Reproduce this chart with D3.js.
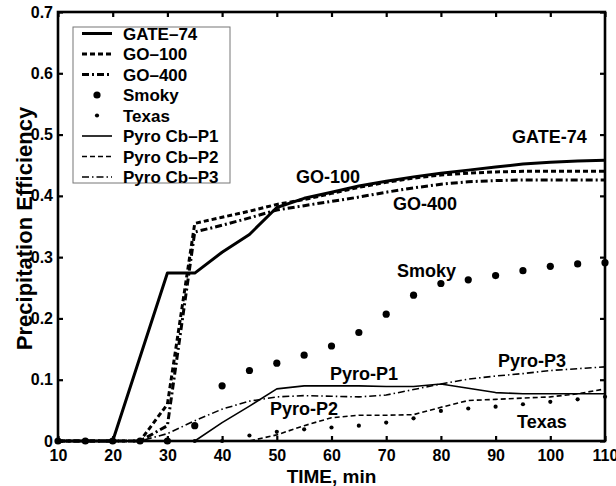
<!DOCTYPE html>
<html>
<head>
<meta charset="utf-8">
<script src="https://cdn.jsdelivr.net/npm/d3@7"></script>
<style>
  html, body { margin: 0; padding: 0; background: #fff; }
  svg { display: block; }
  text { font-family: "Liberation Sans", Arial, Helvetica, sans-serif; font-weight: bold; fill: #000; }
</style>
</head>
<body>
<svg id="chart" width="616" height="486"></svg>
<script>
// Time axis (minutes) shared by every series; null = no sample drawn there
const minutes = [10, 15, 20, 25, 30, 35, 40, 45, 50, 55, 60, 65, 70, 75, 80, 85, 90, 95, 100, 105, 110];

const gate74 = [0, 0, 0, null, 0.274, 0.274, 0.308, 0.337, 0.381, 0.396, 0.406, 0.416, 0.424, 0.431, 0.437, 0.442, 0.447, 0.452, 0.455, 0.457, 0.458];
const go100  = [0, 0, 0, 0, 0.060, 0.355, 0.365, 0.375, 0.386, 0.394, 0.404, 0.414, 0.422, 0.429, 0.434, 0.437, 0.439, 0.440, 0.440, 0.440, 0.440];
const go400  = [0, 0, 0, 0, 0.025, 0.341, 0.352, 0.364, 0.377, 0.384, 0.391, 0.398, 0.406, 0.413, 0.419, 0.423, 0.425, 0.426, 0.426, 0.426, 0.426];
const smoky  = [0, 0, 0, 0, 0, 0.025, 0.090, 0.115, 0.127, 0.140, 0.155, 0.177, 0.207, 0.238, 0.257, 0.263, 0.270, 0.278, 0.285, 0.289, 0.291];
const texas  = [0, 0, 0, 0, 0, 0, 0, 0.009, 0.015, 0.019, 0.022, 0.025, 0.030, 0.037, 0.049, 0.053, 0.056, 0.060, 0.064, 0.068, 0.072];
const pyroP1 = [0, 0, 0, 0, 0, 0, 0.030, 0.057, 0.085, 0.090, 0.090, 0.090, 0.089, 0.089, 0.093, 0.086, 0.079, 0.077, 0.077, 0.077, 0.077];
const pyroP2 = [0, 0, 0, 0, 0, 0, 0, 0, 0.010, 0.025, 0.038, 0.042, 0.042, 0.043, 0.055, 0.066, 0.068, 0.070, 0.072, 0.077, 0.085];
const pyroP3 = [0, 0, 0, 0, 0.012, 0.033, 0.052, 0.065, 0.072, 0.074, 0.073, 0.072, 0.075, 0.084, 0.093, 0.101, 0.106, 0.110, 0.115, 0.118, 0.121];

const xTicks = [10, 20, 30, 40, 50, 60, 70, 80, 90, 100, 110];
const yTicks = [0, 0.1, 0.2, 0.3, 0.4, 0.5, 0.6, 0.7];
const yTickLabels = ["0", "0.1", "0.2", "0.3", "0.4", "0.5", "0.6", "0.7"];

const legendNames = ["GATE\u201374", "GO\u2013100", "GO\u2013400", "Smoky", "Texas", "Pyro Cb\u2013P1", "Pyro Cb\u2013P2", "Pyro Cb\u2013P3"];
const curveLabels = ["GATE-74", "GO-100", "GO-400", "Smoky", "Pyro-P1", "Pyro-P2", "Pyro-P3", "Texas"];

// ---- drawing ----
const svg = d3.select("#chart");
const L = 58, R = 605, T = 12, B = 441;

const x = d3.scaleLinear().domain([10, 110]).range([L, R]);
const y = d3.scaleLinear().domain([0, 0.7]).range([B, T]);

// series styles
const series = [
  { name: legendNames[0], values: gate74, kind: "line", width: 3,   dash: null },
  { name: legendNames[1], values: go100,  kind: "line", width: 3,   dash: "5,3" },
  { name: legendNames[2], values: go400,  kind: "line", width: 3,   dash: "7,3,2,3" },
  { name: legendNames[3], values: smoky,  kind: "dot",  r: 3.6 },
  { name: legendNames[4], values: texas,  kind: "dot",  r: 2.1 },
  { name: legendNames[5], values: pyroP1, kind: "line", width: 1.6, dash: null },
  { name: legendNames[6], values: pyroP2, kind: "line", width: 1.6, dash: "5,3" },
  { name: legendNames[7], values: pyroP3, kind: "line", width: 1.6, dash: "7,3,1.5,3" }
];

function points(vals) {
  return minutes.map((t, i) => [t, vals[i]]).filter(d => d[1] !== null);
}

const line = d3.line().x(d => x(d[0])).y(d => y(d[1]));

// axes with inward ticks on all four sides
const axisG = svg.append("g");
axisG.append("g")
  .attr("transform", `translate(0,${B})`)
  .call(d3.axisBottom(x).tickValues(xTicks).tickSize(-5).tickPadding(9).tickFormat(d3.format("d")))
  .call(g => g.select(".domain").remove());
axisG.append("g")
  .attr("transform", `translate(0,${T})`)
  .call(d3.axisTop(x).tickValues(xTicks).tickSize(-5).tickFormat(""))
  .call(g => g.select(".domain").remove());
axisG.append("g")
  .attr("transform", `translate(${L},0)`)
  .call(d3.axisLeft(y).tickValues(yTicks).tickSize(-5).tickPadding(5).tickFormat((d, i) => yTickLabels[i]))
  .call(g => g.select(".domain").remove());
axisG.append("g")
  .attr("transform", `translate(${R},0)`)
  .call(d3.axisRight(y).tickValues(yTicks).tickSize(-5).tickFormat(""))
  .call(g => g.select(".domain").remove());

axisG.selectAll(".tick line").attr("stroke", "#000").attr("stroke-width", 2.2);
axisG.selectAll(".tick text")
  .style("font-family", "'Liberation Sans', Arial, Helvetica, sans-serif")
  .style("font-weight", "bold")
  .style("font-size", "16px")
  .attr("fill", "#000");

// plot frame
svg.append("rect")
  .attr("x", L).attr("y", T)
  .attr("width", R - L).attr("height", B - T)
  .attr("fill", "none")
  .attr("stroke", "#000")
  .attr("stroke-width", 2.6);

// series (drawn after the frame so the end points on the right edge stay visible)
const plot = svg.append("g");
series.forEach(s => {
  const pts = points(s.values);
  if (s.kind === "line") {
    plot.append("path")
      .datum(pts)
      .attr("d", line)
      .attr("fill", "none")
      .attr("stroke", "#000")
      .attr("stroke-width", s.width)
      .attr("stroke-linejoin", "round")
      .attr("stroke-dasharray", s.dash);
  } else {
    plot.append("g").selectAll("circle")
      .data(pts)
      .join("circle")
      .attr("cx", d => x(d[0]))
      .attr("cy", d => y(d[1]))
      .attr("r", s.r)
      .attr("fill", "#000");
  }
});

// axis titles
svg.append("text")
  .attr("x", (L + R) / 2)
  .attr("y", 483)
  .attr("text-anchor", "middle")
  .style("font-size", "19px")
  .text("TIME, min");

svg.append("text")
  .attr("transform", `translate(32,${(T + B) / 2 + 2}) rotate(-90)`)
  .attr("text-anchor", "middle")
  .style("font-size", "22px")
  .text("Precipitation Efficiency");

// in-plot curve labels: [x minutes, y value] anchors for the text start/baseline
const labelPos = [
  [x.invert(512), y.invert(143)],
  [x.invert(296), y.invert(183)],
  [x.invert(393), y.invert(210)],
  [x.invert(397), y.invert(277)],
  [x.invert(330), y.invert(380)],
  [x.invert(270), y.invert(415)],
  [x.invert(498), y.invert(367)],
  [x.invert(517), y.invert(428)]
];
svg.append("g").selectAll("text")
  .data(curveLabels)
  .join("text")
  .attr("x", (d, i) => x(labelPos[i][0]))
  .attr("y", (d, i) => y(labelPos[i][1]))
  .style("font-size", "18px")
  .text(d => d);

// legend
const lg = svg.append("g");
const lgX = 73, lgY = 27, lgW = 157, lgH = 156;
lg.append("rect")
  .attr("x", lgX).attr("y", lgY)
  .attr("width", lgW).attr("height", lgH)
  .attr("fill", "#fff")
  .attr("stroke", "#777")
  .attr("stroke-width", 1);

series.forEach((s, i) => {
  const cy = 33.5 + i * 20.5;
  if (s.kind === "line") {
    lg.append("line")
      .attr("x1", 82).attr("x2", 112)
      .attr("y1", cy).attr("y2", cy)
      .attr("stroke", "#000")
      .attr("stroke-width", s.width)
      .attr("stroke-dasharray", s.dash);
  } else {
    lg.append("circle")
      .attr("cx", 97).attr("cy", cy)
      .attr("r", s.r)
      .attr("fill", "#000");
  }
  lg.append("text")
    .attr("x", 123)
    .attr("y", cy)
    .attr("dy", "0.36em")
    .style("font-size", "17px")
    .text(s.name);
});
</script>
</body>
</html>
